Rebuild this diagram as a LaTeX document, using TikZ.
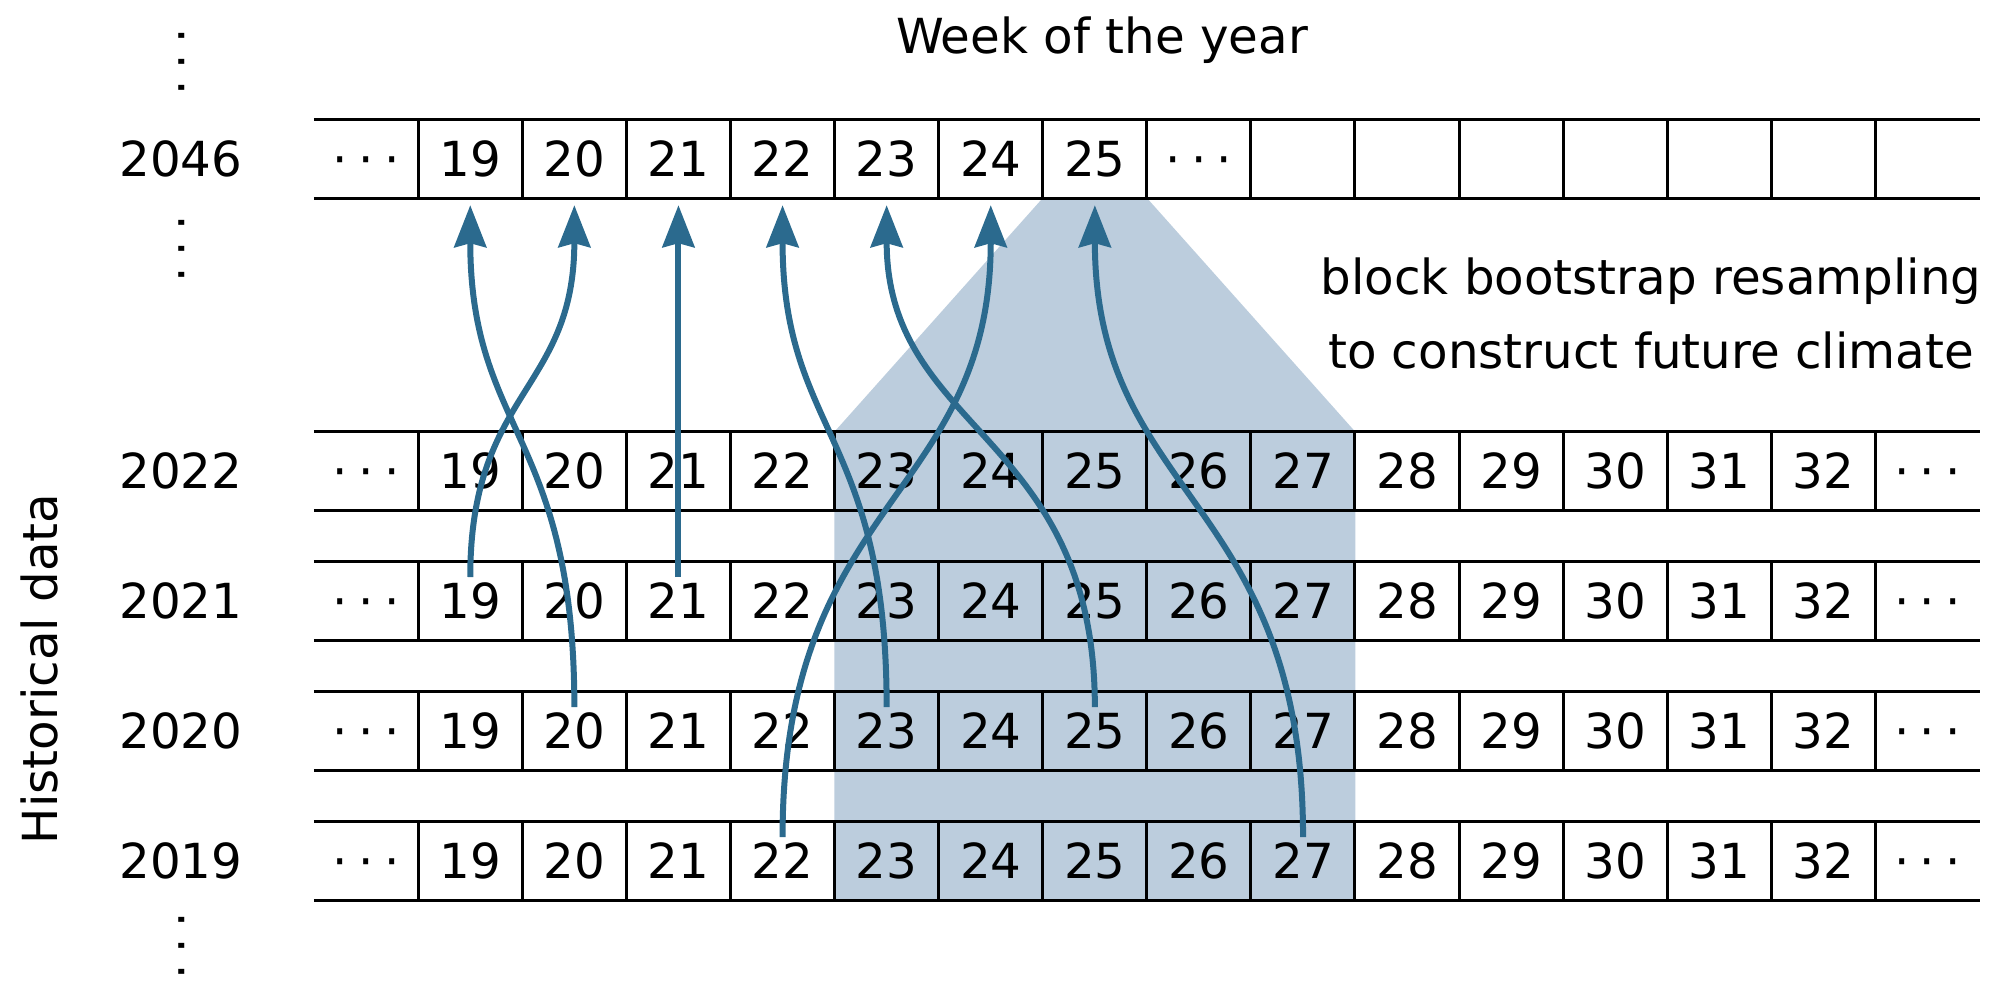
\documentclass[tikz,border=0pt]{standalone}
\usepackage{fontspec}
\setmainfont{DejaVu Sans}
\usetikzlibrary{arrows.meta,calc}
\definecolor{shadeblue}{HTML}{BCCDDD}
\definecolor{arrowblue}{HTML}{2B6A8E}
\newcommand\dotsrow[1]{\makebox[#1]{·}\makebox[#1]{·}\makebox[#1]{·}}
\pgfdeclarelayer{background}
\pgfsetlayers{background,main}
\begin{document}
\begin{tikzpicture}[x=1pt,y=-1pt,
  every node/.style={font=\fontsize{48.3}{58}\selectfont, inner sep=0pt},
  cell/.style={minimum width=104.1pt, minimum height=78pt, text height=35pt, text depth=0pt, anchor=center},
  yearlab/.style={text height=35pt, text depth=0pt, anchor=center},
  vdotsnode/.style={text height=35pt, text depth=0pt, anchor=center, rotate=90},
  grid/.style={line width=3pt, black},
  link/.style={line width=6pt, draw=arrowblue, -{Stealth[length=42pt,width=32pt,inset=4pt,fill=arrowblue]}}]
\useasboundingbox (0,0) rectangle (1998,994);

% future row 2046
\foreach \k in {0,...,15}{
  \ifnum\k=0 \def\lab{\dotsrow{25.6pt}}\else
   \ifnum\k<8 \pgfmathtruncatemacro\lab{18+\k}\else
    \ifnum\k=8 \def\lab{\dotsrow{25.6pt}}\else\def\lab{}\fi\fi\fi
  \node[cell] (f\k) at ({314.1+(\k+0.5)*104.1},159) {\lab};
}
% historical rows
\foreach \yr/\yc in {2022/471,2021/601,2020/731,2019/861}{
  \foreach \k in {0,...,15}{
    \ifnum\k=0 \def\lab{\dotsrow{25.6pt}}\else
     \ifnum\k=15 \def\lab{\dotsrow{25.6pt}}\else
      \pgfmathtruncatemacro\lab{18+\k}\fi\fi
    \node[cell] (y\yr c\k) at ({314.1+(\k+0.5)*104.1},\yc) {\lab};
  }
  \node[yearlab] (lab\yr) at (181,\yc) {\yr};
}
\node[yearlab] (lab2046) at (181,159) {2046};

% grid lines
\foreach \r in {f,y2022c,y2021c,y2020c,y2019c}{
  \draw[grid] (\r0.north west) -- (\r15.north east);
  \draw[grid] (\r0.south west) -- (\r15.south east);
  \foreach \k in {1,...,15}{
    \draw[grid] (\r\k.north west) -- (\r\k.south west);
  }
}

% shaded block
\begin{pgfonlayer}{background}
  \fill[shadeblue] (f7.south west) -- (f7.south east) -- (y2022c9.north east)
    -- (y2019c9.south east) -- (y2019c5.south west) -- (y2022c5.north west) -- cycle;
\end{pgfonlayer}

% vertical dots
\node[vdotsnode] (vd1) at (181,62) {\dotsrow{26pt}};
\node[vdotsnode] (vd2) at (181,249) {\dotsrow{26pt}};
\node[vdotsnode] (vd3) at (181,946) {\dotsrow{26pt}};

% texts
\node[anchor=base] (title) at (1102,53) {Week of the year};
\node[anchor=base, align=center, font=\fontsize{48.3}{74}\selectfont] (note) at (1651,368)
  {block bootstrap resampling\\to construct future climate};
\node[rotate=90, anchor=base] (hist) at (57,669) {Historical data};

% resampling arrows
\draw[link] ([yshift=24pt]y2020c2.center) .. controls +(0,-274) and +(0,228) .. ([yshift=-7pt]f1.south);
\draw[link] ([yshift=24pt]y2021c1.center) .. controls +(0,-186) and +(0,186) .. ([yshift=-7pt]f2.south);
\draw[link] ([yshift=24pt]y2021c3.center) -- ([yshift=-7pt]f3.south);
\draw[link] ([yshift=24pt]y2020c5.center) .. controls +(0,-274) and +(0,228) .. ([yshift=-7pt]f4.south);
\draw[link] ([yshift=24pt]y2020c7.center) .. controls +(0,-274) and +(0,228) .. ([yshift=-7pt]f5.south);
\draw[link] ([yshift=24pt]y2019c4.center) .. controls +(0,-339) and +(0,293) .. ([yshift=-7pt]f6.south);
\draw[link] ([yshift=24pt]y2019c9.center) .. controls +(0,-339) and +(0,293) .. ([yshift=-7pt]f7.south);
\end{tikzpicture}
\end{document}
